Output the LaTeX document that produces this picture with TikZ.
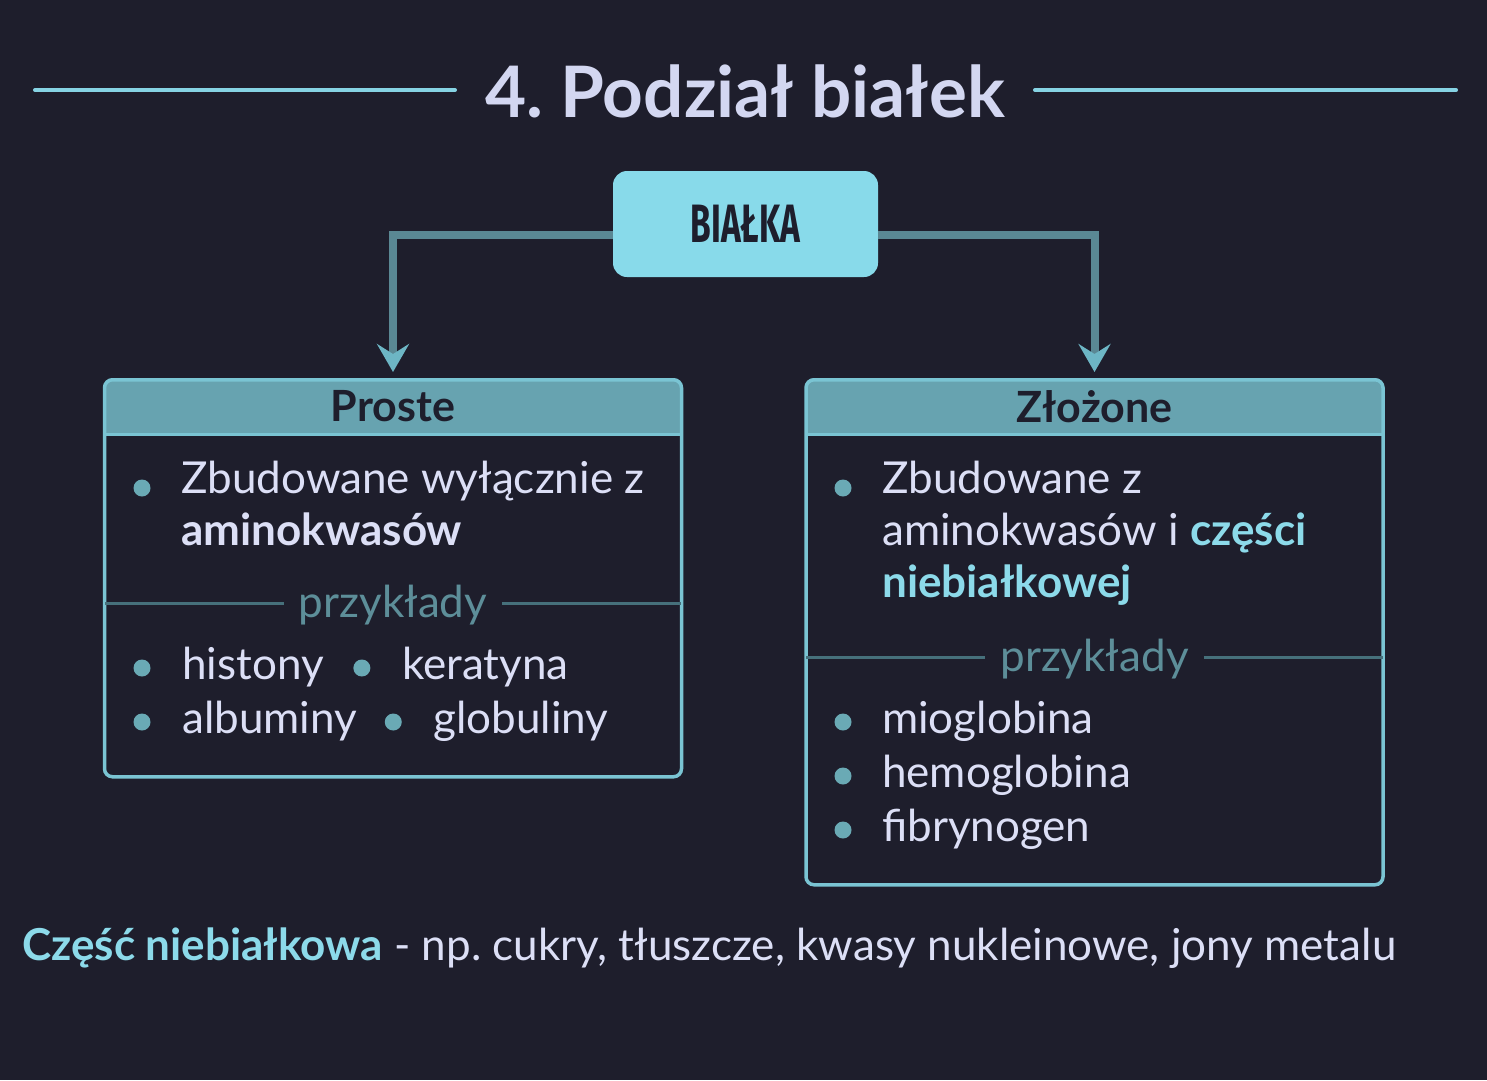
\documentclass[tikz,border=0pt]{standalone}
\usepackage{fontspec}
\setmainfont{Lato}
\newfontfamily\narrowfont[FakeStretch=0.62]{Fira Sans}
\usetikzlibrary{arrows.meta,positioning}
\frenchspacing

\definecolor{bgdark}{HTML}{1E1E2C}
\definecolor{titletext}{HTML}{D3D7F1}
\definecolor{rulecyan}{HTML}{86D3E4}
\definecolor{rootfill}{HTML}{88DAEA}
\definecolor{arrowline}{HTML}{5A8894}
\definecolor{arrowtip}{HTML}{6DB6C5}
\definecolor{cardline}{HTML}{7AC4D3}
\definecolor{headfill}{HTML}{67A3B0}
\definecolor{bodytext}{HTML}{DCDFF6}
\definecolor{dotcol}{HTML}{6AAAB5}
\definecolor{extext}{HTML}{5D8E99}
\definecolor{sepline}{HTML}{46707B}
\definecolor{accent}{HTML}{8CDAEA}

\newcommand\titlesize{\fontsize{71}{80}\selectfont}
\newcommand\bodysize{\fontsize{44}{52}\selectfont}
\newcommand\footsize{\fontsize{44}{52}\selectfont}

\begin{document}
\begin{tikzpicture}[x=1pt,y=-1pt,
    rule/.style={rulecyan,line width=4pt,line cap=round},
    root/.style={fill=rootfill,rounded corners=14pt,minimum width=265pt,minimum height=106pt,
      text=bgdark,font=\narrowfont\bfseries\fontsize{54}{60}\selectfont},
    conn/.style={arrowline,line width=8pt,shorten >=6pt,
      -{Stealth[length=28pt,width=32pt,inset=10pt,color=arrowtip]}},
    head/.style={fill=headfill,rounded corners=8pt,minimum width=577pt,minimum height=56pt,anchor=north},
    headlabel/.style={text=bgdark,font=\bfseries\fontsize{43}{50}\selectfont},
    card/.style={draw=cardline,line width=3.5pt,rounded corners=8pt,minimum width=577pt,anchor=north},
    line/.style={anchor=base west,inner sep=0pt,text=bodytext,font=\bodysize},
    dot/.style={circle,fill=dotcol,inner sep=0pt,minimum size=17pt},
    ex/.style={anchor=base,inner xsep=15pt,inner ysep=0pt,text=extext,font=\bodysize},
    sep/.style={sepline,line width=3pt}]

  \fill[bgdark] (0,0) rectangle (1487,1080);

  % title
  \node[anchor=base,inner xsep=30pt,text=titletext,font=\titlesize\bfseries] (title) at (745,117) {4. Podział białek};
  \coordinate (ruleL) at (35,90);
  \coordinate (ruleR) at (1456,90);
  \draw[rule] (ruleL) -- (ruleL -| title.west);
  \draw[rule] (ruleR) -- (ruleR -| title.east);

  \node[root] (bialka) at (745.5,224) {BIAŁKA};

  % cards
  \node[head] (prosteHead) at (393,378) {};
  \fill[headfill] (prosteHead.west) rectangle (prosteHead.south east);
  \node[headlabel] at (prosteHead) {Proste};
  \node[card,minimum height=397pt] (proste) at (prosteHead.north) {};
  \draw[cardline,line width=3pt] (prosteHead.south west) -- (prosteHead.south east);

  \node[head] (zlozoneHead) at (1094.5,378) {};
  \fill[headfill] (zlozoneHead.west) rectangle (zlozoneHead.south east);
  \node[headlabel] at (zlozoneHead) {Złożone};
  \node[card,minimum height=505pt] (zlozone) at (zlozoneHead.north) {};
  \draw[cardline,line width=3pt] (zlozoneHead.south west) -- (zlozoneHead.south east);

  \draw[conn] ([yshift=-11pt]bialka.west) -| (proste.north);
  \draw[conn] ([yshift=-11pt]bialka.east) -| (zlozone.north);

  % Proste
  \node[line] (p1) at (181,493) {Zbudowane wyłącznie z};
  \node[line,below=52pt of p1.base west,anchor=base west,font=\bodysize\bfseries] (p2) {aminokwasów};
  \node[dot] (pd1) at ([xshift=-39pt,yshift=5pt]p1.base west) {};

  \node[ex] (ex1) at (393,617) {przykłady};
  \coordinate (ex1m) at ([yshift=14pt]ex1.base);
  \draw[sep] ([xshift=2pt]proste.west |- ex1m) -- (ex1.west |- ex1m)
    (ex1.east |- ex1m) -- ([xshift=-2pt]proste.east |- ex1m);

  \node[line] (h1) at (182,679) {histony};
  \node[dot] (hd1) at ([xshift=-40pt,yshift=11pt]h1.base west) {};
  \node[dot] (hd2) at ([xshift=38pt,yshift=11pt]h1.base east) {};
  \node[line] (h2) at ([xshift=40pt,yshift=-11pt]hd2.center) {keratyna};
  \node[line,below=54pt of h1.base west,anchor=base west] (a1) {albuminy};
  \node[dot] (ad1) at ([xshift=-40pt,yshift=11pt]a1.base west) {};
  \node[dot] (ad2) at ([xshift=36pt,yshift=11pt]a1.base east) {};
  \node[line] (a2) at ([xshift=40pt,yshift=-11pt]ad2.center) {globuliny};

  % Złożone
  \node[line] (z1) at (882,493) {Zbudowane z};
  \node[line,below=52pt of z1.base west,anchor=base west] (z2) {aminokwasów i \textcolor{accent}{\bfseries części}};
  \node[line,below=52pt of z2.base west,anchor=base west,text=accent,font=\bodysize\bfseries] (z3) {niebiałkowej};
  \node[dot] (zd1) at ([xshift=-39pt,yshift=5pt]z1.base west) {};

  \node[ex] (ex2) at (1094.5,671) {przykłady};
  \coordinate (ex2m) at ([yshift=14pt]ex2.base);
  \draw[sep] ([xshift=2pt]zlozone.west |- ex2m) -- (ex2.west |- ex2m)
    (ex2.east |- ex2m) -- ([xshift=-2pt]zlozone.east |- ex2m);

  \node[line] (m1) at (882,733) {mioglobina};
  \node[line,below=54pt of m1.base west,anchor=base west] (m2) {hemoglobina};
  \node[line,below=54pt of m2.base west,anchor=base west] (m3) {fibrynogen};
  \foreach \n in {m1,m2,m3}
    \node[dot] at ([xshift=-39pt,yshift=11pt]\n.base west) {};

  % footnote
  \node[line,font=\footsize] (foot) at (22,960) {\textcolor{accent}{\bfseries Część niebiałkowa} - np. cukry, tłuszcze, kwasy nukleinowe, jony metalu};
\end{tikzpicture}
\end{document}
